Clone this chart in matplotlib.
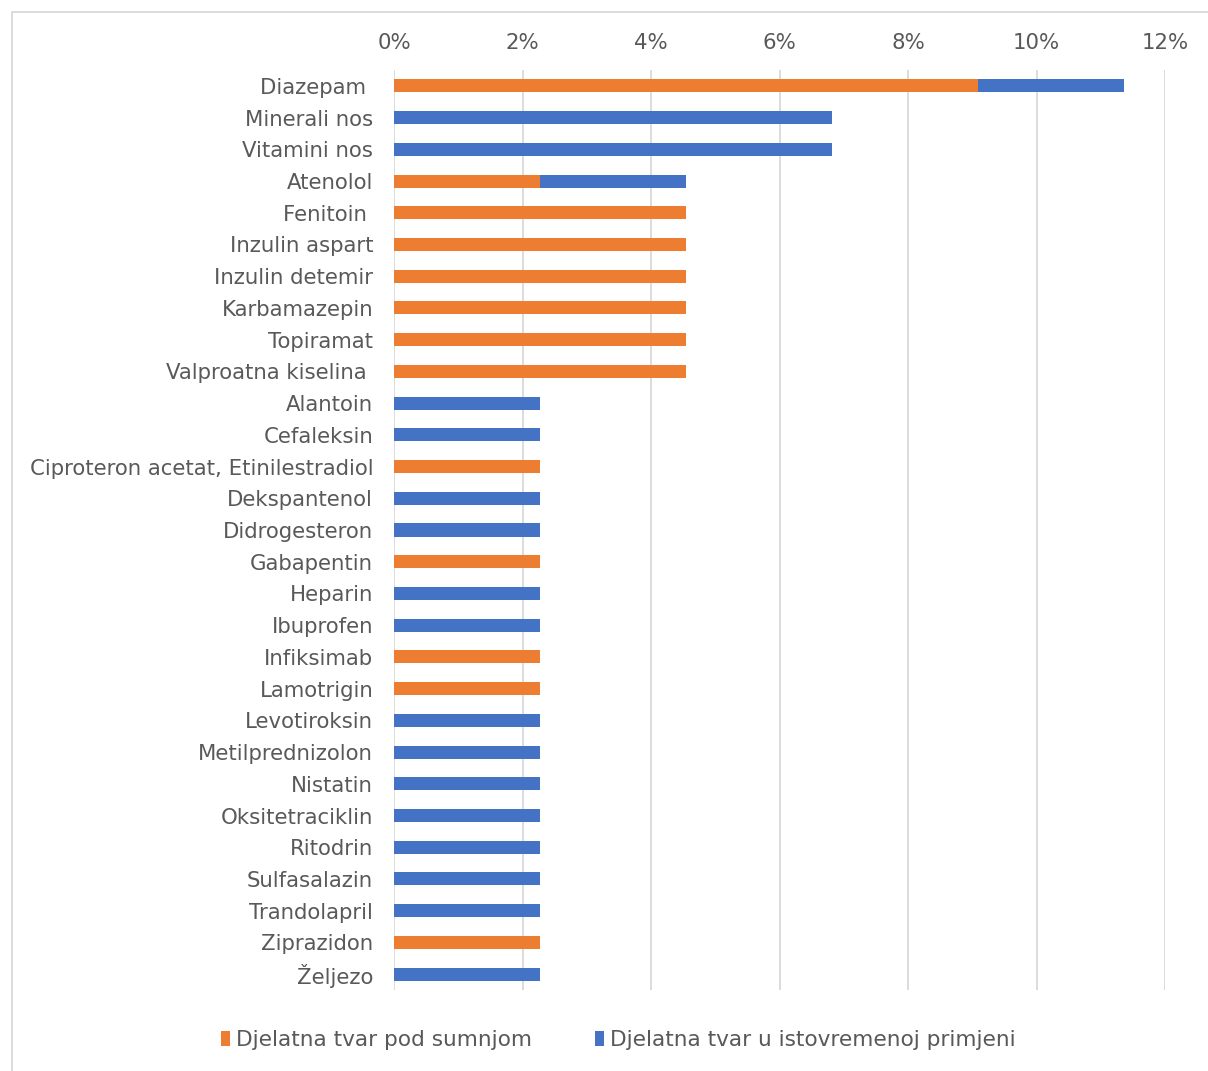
import matplotlib
matplotlib.use("Agg")
import matplotlib.pyplot as plt
from matplotlib.patches import Rectangle
from matplotlib.ticker import FuncFormatter, MultipleLocator

categories = ["Diazepam ", "Minerali nos", "Vitamini nos", "Atenolol", "Fenitoin ",
              "Inzulin aspart", "Inzulin detemir", "Karbamazepin", "Topiramat",
              "Valproatna kiselina ", "Alantoin", "Cefaleksin",
              "Ciproteron acetat, Etinilestradiol", "Dekspantenol", "Didrogesteron",
              "Gabapentin", "Heparin", "Ibuprofen", "Infiksimab", "Lamotrigin",
              "Levotiroksin", "Metilprednizolon", "Nistatin", "Oksitetraciklin",
              "Ritodrin", "Sulfasalazin", "Trandolapril", "Ziprazidon", "Željezo"]

suspect = [9.09, 0, 0, 2.27, 4.55, 4.55, 4.55, 4.55, 4.55, 4.55, 0, 0, 2.27, 0, 0,
           2.27, 0, 0, 2.27, 2.27, 0, 0, 0, 0, 0, 0, 0, 2.27, 0]
concomitant = [2.27, 6.82, 6.82, 2.27, 0, 0, 0, 0, 0, 0, 2.27, 2.27, 0, 2.27, 2.27,
               0, 2.27, 2.27, 0, 0, 2.27, 2.27, 2.27, 2.27, 2.27, 2.27, 2.27, 0, 2.27]

series_names = ["Djelatna tvar pod sumnjom", "Djelatna tvar u istovremenoj primjeni"]
orange = "#ED7D31"
blue = "#4472C4"
text_color = "#595959"

W, H = 1208, 1071
fig = plt.figure(figsize=(W / 100, H / 100), dpi=100)
plt.rcParams['font.family'] = ['DejaVu Sans']

# chart area border
fig.patches.append(Rectangle((12 / W, -0.05), 1.2, (H - 12) / H + 0.05,
                             transform=fig.transFigure, fill=False,
                             edgecolor="#d9d9d9", linewidth=1.3))

left, right = 394 / W, 1165 / W
top, bottom = 1 - 70 / H, 1 - 990 / H
ax = fig.add_axes([left, bottom, right - left, top - bottom])

y = list(range(len(categories)))
ax.barh(y, suspect, height=0.41, color=orange, label=series_names[0], zorder=3)
ax.barh(y, concomitant, left=suspect, height=0.41, color=blue,
        label=series_names[1], zorder=3)

ax.set_ylim(len(categories) - 0.5, -0.5)
ax.set_xlim(0, 12)
ax.xaxis.set_major_locator(MultipleLocator(2))
ax.xaxis.set_major_formatter(FuncFormatter(lambda v, p: f"{v:.0f}%"))
ax.xaxis.tick_top()
ax.set_yticks(y)
ax.set_yticklabels(categories)
ax.tick_params(axis="both", length=0, labelsize=15.3, colors=text_color)
ax.tick_params(axis="x", pad=12)
ax.tick_params(axis="y", pad=15)
ax.grid(axis="x", color="#d9d9d9", linewidth=1.3, zorder=0)
for s in ax.spines.values():
    s.set_visible(False)

leg = fig.legend(loc="center", bbox_to_anchor=(618 / W, 1 - 1040 / H), ncol=2,
                 frameon=False, fontsize=15.6, handlelength=0.45, handleheight=0.65,
                 handletextpad=0.25, columnspacing=2.9)
for t in leg.get_texts():
    t.set_color(text_color)

fig.savefig("out.png", dpi=100)
